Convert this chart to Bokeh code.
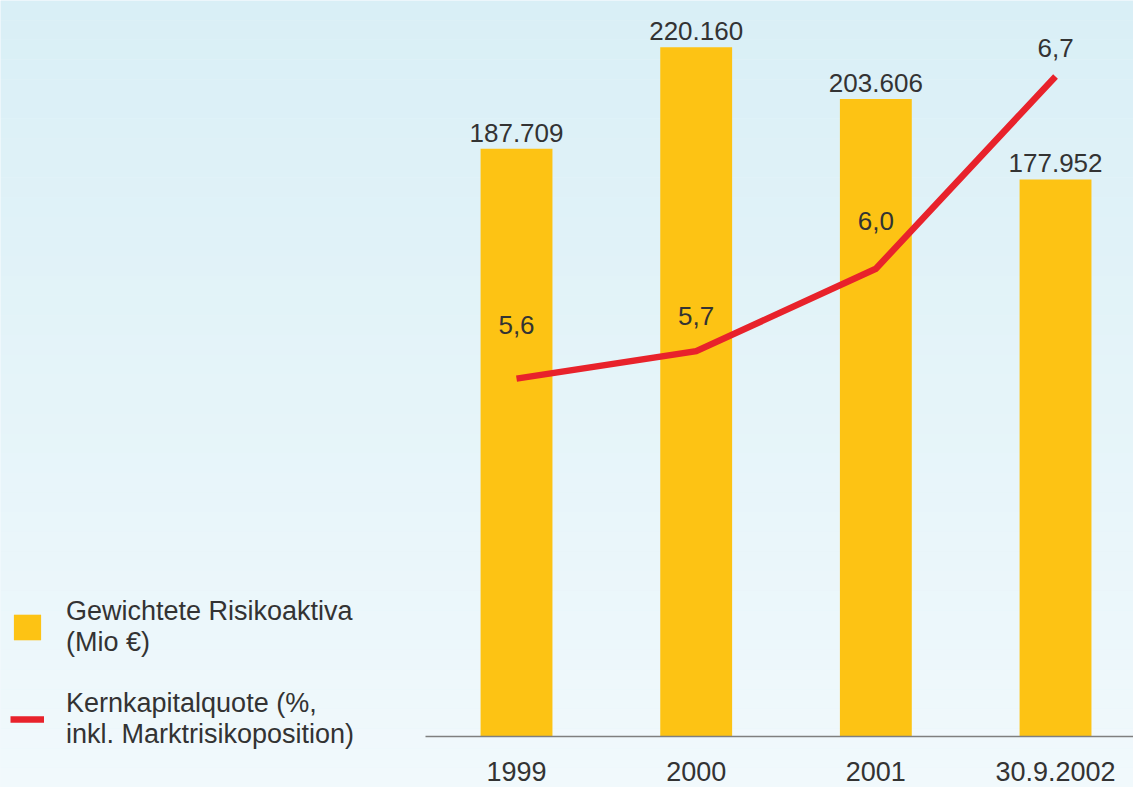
from bokeh.plotting import figure
from bokeh.models import Range1d, FixedTicker, Legend, LegendItem, BoxAnnotation, ColumnDataSource
from bokeh.core.properties import value
from bokeh.embed import file_html
from bokeh.resources import INLINE

# ---------------- data ----------------
categories = ["1999", "2000", "2001", "30.9.2002"]
risk_assets = [187709, 220160, 203606, 177952]          # Gewichtete Risikoaktiva (Mio €)
core_capital_ratio = [5.6, 5.7, 6.0, 6.7]               # Kernkapitalquote (%)

# ---------------- style / placement ----------------
pct_label_lift = [54, 35, 48, 28]   # px offset of line labels above the points
bar_label_gap = 16                  # px offset of bar labels above the bar tops

FONT = "Liberation Sans"
TEXT = "#333333"
BAR = "#FDC314"
LINE = "#E8222B"
W, H = 1133, 787

positions = list(range(len(categories)))
bar_labels = [f"{v:,}".replace(",", ".") for v in risk_assets]
pct_labels = [f"{v:.1f}".replace(".", ",") for v in core_capital_ratio]

src = ColumnDataSource(dict(
    x=positions, v=risk_assets, lbl=bar_labels,
    pct=core_capital_ratio, pct_lbl=pct_labels,
    lift=[-d for d in pct_label_lift],
))

p = figure(width=W, height=H, output_backend="svg", toolbar_location=None,
           x_range=Range1d(-2.872, 3.434), y_range=Range1d(-16290, 235100),
           y_axis_location=None)
p.extra_y_ranges = {"pct": Range1d(4.1116, 6.9765)}
p.min_border_left = 0
p.min_border_right = 0
p.min_border_top = 0
p.min_border_bottom = 0
p.grid.visible = False
p.outline_line_color = None
p.border_fill_color = "#F0F9FC"
p.background_fill_color = "#E6F4F9"

# vertical background gradient (decoration)
N = 40
top_c = (217, 239, 246)
bot_c = (241, 249, 252)
y0, y1 = p.y_range.start, p.y_range.end
for i in range(N):
    t = (i + 0.5) / N
    c = tuple(round(top_c[k] + (bot_c[k] - top_c[k]) * t) for k in range(3))
    p.add_layout(BoxAnnotation(
        top=y1 - (y1 - y0) * i / N, bottom=y1 - (y1 - y0) * (i + 1) / N,
        fill_color="#%02x%02x%02x" % c, fill_alpha=1.0, line_alpha=0,
        level="underlay"))

# x axis (kept in the 'below' panel, drawn at y = 0 inside the frame)
ax = p.xaxis[0]
ax.fixed_location = 0
ax.ticker = FixedTicker(ticks=positions)
ax.major_label_overrides = {i: c for i, c in zip(positions, categories)}
ax.bounds = (-0.506, 3.434)
ax.axis_line_color = "#7f7f7f"
ax.axis_line_width = 1.5
ax.major_tick_line_color = None
ax.minor_tick_line_color = None
ax.major_tick_out = 0
ax.major_tick_in = 0
ax.major_label_standoff = 25
ax.major_label_text_font = FONT
ax.major_label_text_font_size = "27px"
ax.major_label_text_color = TEXT

bars = p.vbar(x="x", top="v", bottom=0, width=0.4, source=src,
              fill_color=BAR, line_color=None)
line = p.line(x="x", y="pct", source=src, y_range_name="pct",
              line_color=LINE, line_width=6.5, line_join="miter", line_cap="butt")

p.text(x="x", y="v", text="lbl", source=src, y_offset=-bar_label_gap,
       text_align="center", text_baseline="alphabetic",
       text_font=value(FONT), text_font_size="26px", text_color=TEXT)
p.text(x="x", y="pct", text="pct_lbl", source=src, y_range_name="pct",
       y_offset="lift", text_align="center", text_baseline="alphabetic",
       text_font=value(FONT), text_font_size="26px", text_color=TEXT)

legend = Legend(items=[
    LegendItem(label="Gewichtete Risikoaktiva\n(Mio €)", renderers=[bars]),
    LegendItem(label="Kernkapitalquote (%,\ninkl. Marktrisikoposition)", renderers=[line]),
], location=(10, 37), glyph_width=34, glyph_height=32, label_standoff=22,
    spacing=30, padding=0, margin=0, border_line_color=None,
    background_fill_alpha=0, label_text_font=FONT, label_text_font_size="27px",
    label_text_color=TEXT, label_text_line_height=1.1)
p.add_layout(legend)

open("out.html", "w").write(file_html(p, INLINE))
